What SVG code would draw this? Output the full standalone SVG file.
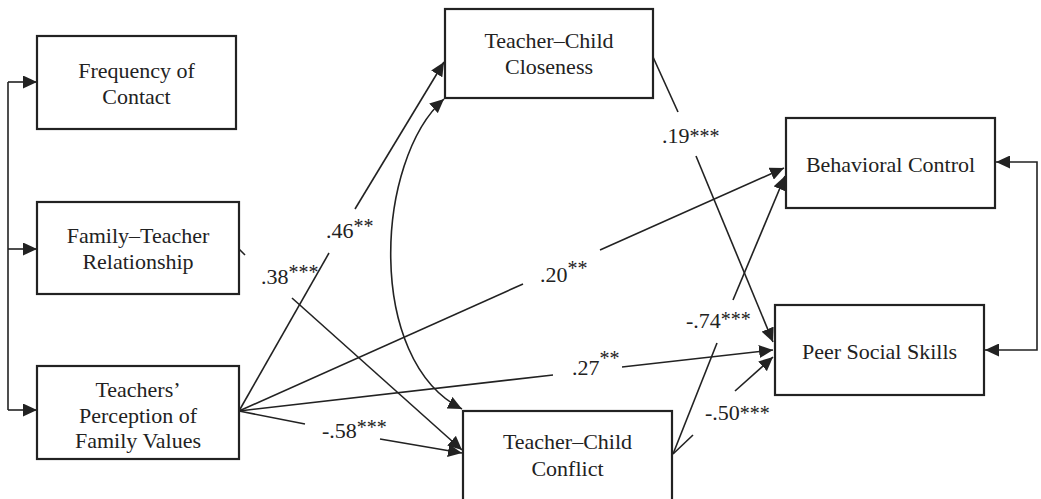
<svg xmlns="http://www.w3.org/2000/svg" width="1041" height="499" viewBox="0 0 1041 499">
<style>
  .box { fill: #ffffff; stroke: #222222; stroke-width: 2.2; }
  .lbl { font-family: "Liberation Serif", "DejaVu Serif", serif; font-size: 22px; fill: #222222; text-anchor: middle; }
  .coef { font-family: "Liberation Serif", "DejaVu Serif", serif; font-size: 22px; fill: #222222; }
  .st { font-size: 20px; }
  .ln { fill: none; stroke: #222222; stroke-width: 1.6; }
  .arr { marker-end: url(#ah); }
  .dbl { marker-start: url(#ah); marker-end: url(#ah); }
</style>
<defs>
  <marker id="ah" markerUnits="userSpaceOnUse" markerWidth="15" markerHeight="13" refX="14" refY="6.5" orient="auto-start-reverse">
    <path d="M0,0 L14,6.5 L0,13 z" fill="#222222"/>
  </marker>
</defs>
<rect width="1041" height="499" fill="#ffffff"/>

<g id="connectors">
  <path class="ln" d="M8,82 L8,410"/>
  <path class="ln arr" d="M8,82 L37,82"/>
  <path class="ln arr" d="M8,249 L37,249"/>
  <path class="ln arr" d="M8,410 L37,410"/>
  <path class="ln" d="M239,249 L245,255"/>
  <path class="ln arr" d="M292,298 L462,450"/>
  <path class="ln" d="M239,411 L329,253"/>
  <path class="ln arr" d="M355,209 L444,62"/>
  <path class="ln dbl" d="M444,99 C375,160 365,360 462,409"/>
  <path class="ln" d="M239,411 L523,284"/>
  <path class="ln arr" d="M600,250 L784,168"/>
  <path class="ln" d="M239,411 L553,375"/>
  <path class="ln arr" d="M622,367 L773,350"/>
  <path class="ln" d="M239,411 L305,424"/>
  <path class="ln arr" d="M380,439 L462,453"/>
  <path class="ln" d="M653,57 L678,112"/>
  <path class="ln arr" d="M696,156 L773,342"/>
  <path class="ln" d="M673,454 L717,343"/>
  <path class="ln arr" d="M733,300 L785,176"/>
  <path class="ln" d="M673,454 L693,435"/>
  <path class="ln arr" d="M735,391 L773,357"/>
  <path class="ln dbl" d="M996,162 L1037,162 L1037,350 L985,350"/>
</g>

<g id="labels">
  <text class="coef" x="261" y="284">.38<tspan class="st" dy="-5">***</tspan></text>
  <text class="coef" x="326" y="238">.46<tspan class="st" dy="-5">**</tspan></text>
  <text class="coef" x="540" y="282">.20<tspan class="st" dy="-7">**</tspan></text>
  <text class="coef" x="572" y="375">.27<tspan class="st" dy="-10">**</tspan></text>
  <text class="coef" x="322" y="438">-.58<tspan class="st" dy="-4">***</tspan></text>
  <text class="coef" x="662" y="143">.19<tspan class="st">***</tspan></text>
  <text class="coef" x="686" y="328">-.74<tspan class="st" dy="-2">***</tspan></text>
  <text class="coef" x="705" y="420">-.50<tspan class="st">***</tspan></text>
</g>

<g id="node-frequency">
  <rect class="box" x="37" y="36" width="199" height="93"/>
  <text class="lbl" x="136.5" y="78">Frequency of</text>
  <text class="lbl" x="136.5" y="104">Contact</text>
</g>
<g id="node-family-teacher">
  <rect class="box" x="37" y="202" width="202" height="92"/>
  <text class="lbl" x="138" y="243">Family–Teacher</text>
  <text class="lbl" x="138" y="269">Relationship</text>
</g>
<g id="node-perception">
  <rect class="box" x="37" y="366" width="202" height="93"/>
  <text class="lbl" x="138" y="397">Teachers’</text>
  <text class="lbl" x="138" y="423">Perception of</text>
  <text class="lbl" x="138" y="448">Family Values</text>
</g>
<g id="node-closeness">
  <rect class="box" x="445" y="9" width="208" height="89"/>
  <text class="lbl" x="549" y="48">Teacher–Child</text>
  <text class="lbl" x="549" y="74">Closeness</text>
</g>
<g id="node-conflict">
  <rect class="box" x="463" y="411" width="209" height="100"/>
  <text class="lbl" x="567.5" y="449">Teacher–Child</text>
  <text class="lbl" x="567.5" y="476">Conflict</text>
</g>
<g id="node-behavioral">
  <rect class="box" x="786" y="118" width="209" height="90"/>
  <text class="lbl" x="890.5" y="172">Behavioral Control</text>
</g>
<g id="node-peer">
  <rect class="box" x="775" y="305" width="209" height="90"/>
  <text class="lbl" x="879.5" y="359">Peer Social Skills</text>
</g>
</svg>
